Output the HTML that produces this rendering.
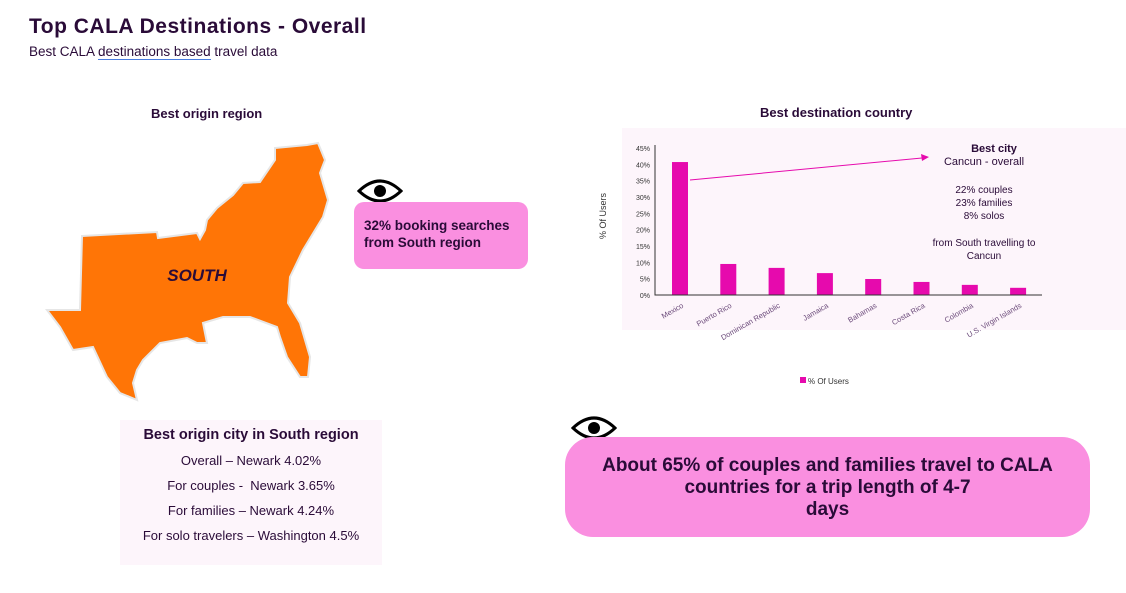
<!DOCTYPE html>
<html><head><meta charset="utf-8"><style>
body{margin:0;width:1126px;height:593px;background:#fff;font-family:"Liberation Sans",sans-serif;color:#2a0b38;position:relative;overflow:hidden}
.a{position:absolute}
</style></head><body>
<div class="a" style="left:29px;top:15px;font-size:21px;font-weight:bold;letter-spacing:0.5px">Top CALA Destinations - Overall</div>
<div class="a" style="left:29px;top:44px;font-size:13.5px">Best CALA <span style="border-bottom:1.5px solid #4a7de0">destinations based</span> travel data</div>

<div class="a" style="left:151px;top:106px;font-size:13px;font-weight:bold">Best origin region</div>

<svg class="a" style="left:0;top:0" width="400" height="420">
<path d="M82,236 L157,232 L158,238 L197,233 L200,239 L205,230 L207,220 L217,208 L233,195 L243,183 L260,182 L275,160 L275,148 L307,145 L318,143 L325,160 L320,173 L328,200 L323,217 L303,250 L290,277 L288,303 L300,323 L310,357 L308,377 L300,377 L287,357 L280,337 L277,327 L250,317 L223,317 L203,323 L207,343 L197,343 L187,338 L160,343 L143,360 L137,370 L133,383 L137,400 L120,393 L107,377 L93,347 L73,350 L60,327 L47,310 L80,310 Z" fill="#ff7506" stroke="#e6e6e6" stroke-width="2"/>
<text x="197" y="281" text-anchor="middle" font-size="17" font-weight="bold" font-style="italic" fill="#2a0b38" font-family="Liberation Sans, sans-serif">SOUTH</text>
</svg>

<svg class="a" style="left:357px;top:179px" width="46" height="24"><path d="M2,12 Q23,-8 44,12 Q23,32 2,12 Z" fill="none" stroke="#000" stroke-width="3"/><circle cx="23" cy="12" r="6" fill="#000"/></svg>
<div class="a" style="left:354px;top:202px;width:174px;height:67px;background:#fa8fe0;border-radius:10px;box-sizing:border-box;padding:15px 0 0 10px;font-size:13.5px;font-weight:bold;line-height:17px">32% booking searches<br>from South region</div>

<div class="a" style="left:120px;top:420px;width:262px;height:145px;background:#fdf5fb;text-align:center;font-size:13px;line-height:25px">
<div style="font-weight:bold;font-size:14.5px;margin-top:3px">Best origin city in South region</div>
<div>Overall – Newark 4.02%</div>
<div>For couples -&nbsp; Newark 3.65%</div>
<div>For families – Newark 4.24%</div>
<div>For solo travelers – Washington 4.5%</div>
</div>

<div class="a" style="left:760px;top:105px;font-size:13px;font-weight:bold">Best destination country</div>

<svg class="a" id="chart" style="left:0;top:0" width="1126" height="400"></svg>

<svg class="a" style="left:571px;top:416px" width="46" height="24"><path d="M2,12 Q23,-8 44,12 Q23,32 2,12 Z" fill="none" stroke="#000" stroke-width="3"/><circle cx="23" cy="12" r="6" fill="#000"/></svg>
<div class="a" style="left:565px;top:437px;width:525px;height:100px;background:#fa8fe0;border-radius:28px;box-sizing:border-box;padding-top:18px;text-align:center;font-size:19px;font-weight:bold;line-height:22px">About 65% of couples and families travel to CALA<br>countries for a trip length of 4-7<br>days</div>

<script>
const categories=["Mexico","Puerto Rico","Dominican Republic","Jamaica","Bahamas","Costa Rica","Colombia","U.S. Virgin Islands"];
const values=[40.7,9.5,8.3,6.7,4.9,4.0,3.1,2.2];
const ticks=[0,5,10,15,20,25,30,35,40,45];
const svg=document.getElementById('chart');
const NS='http://www.w3.org/2000/svg';
function mk(t,a,txt){const e=document.createElementNS(NS,t);for(const k in a)e.setAttribute(k,a[k]);if(txt!==undefined)e.textContent=txt;svg.appendChild(e);return e;}
const x0=655,x1=1042,y0=295,yTop=148,maxV=45;
const y=v=>y0-(v/maxV)*(y0-yTop);
const step=48.3,first=680;
const xc=i=>first+i*step;
let bg=mk('rect',{x:622,y:128,width:504,height:202,fill:'#fdf5fb'});


ticks.forEach(t=>{const e=mk('text',{x:650,y:y(t)+3,'text-anchor':'end','font-size':7,fill:'#333'},t+'%');

});
values.forEach((v,i)=>{const r=mk('rect',{x:xc(i)-8,y:y(v),width:16,height:y0-y(v),fill:'#e60aad'});


const l=mk('text',{x:xc(i)+4,y:y0+12,'text-anchor':'end','font-size':7.5,fill:'#6b4a7a',transform:`rotate(-30 ${xc(i)+4} ${y0+12})`},categories[i]);

});
let ax=mk('path',{d:`M${x0},${yTop-3} V${y0} H${x1}`,stroke:'#333',fill:'none','stroke-width':1});


let yt=mk('text',{x:606,y:216,'text-anchor':'middle','font-size':9,fill:'#333',transform:'rotate(-90 606 216)'},'% Of Users');


let ar=mk('line',{x1:690,y1:180,x2:922,y2:158,stroke:'#e60aad','stroke-width':1});


let ah=mk('path',{d:'M929,157 L921,154 L922,161 Z',fill:'#e60aad'});


const ann=[["Best city",994,152,11,'bold'],["Cancun - overall",984,165,11,'normal'],["22% couples",984,193,10,'normal'],["23% families",984,206,10,'normal'],["8% solos",984,219,10,'normal'],["from South travelling to",984,246,10,'normal'],["Cancun",984,259,10,'normal']];
ann.forEach(a=>{const e=mk('text',{x:a[1],y:a[2],'text-anchor':'middle','font-size':a[3],'font-weight':a[4],fill:'#2a0b38'},a[0]);

});
let lg=mk('rect',{x:800,y:377,width:6,height:6,fill:'#e60aad'});


let lt=mk('text',{x:808,y:384,'font-size':8,fill:'#333'},'% Of Users');


</script>
</body></html>
